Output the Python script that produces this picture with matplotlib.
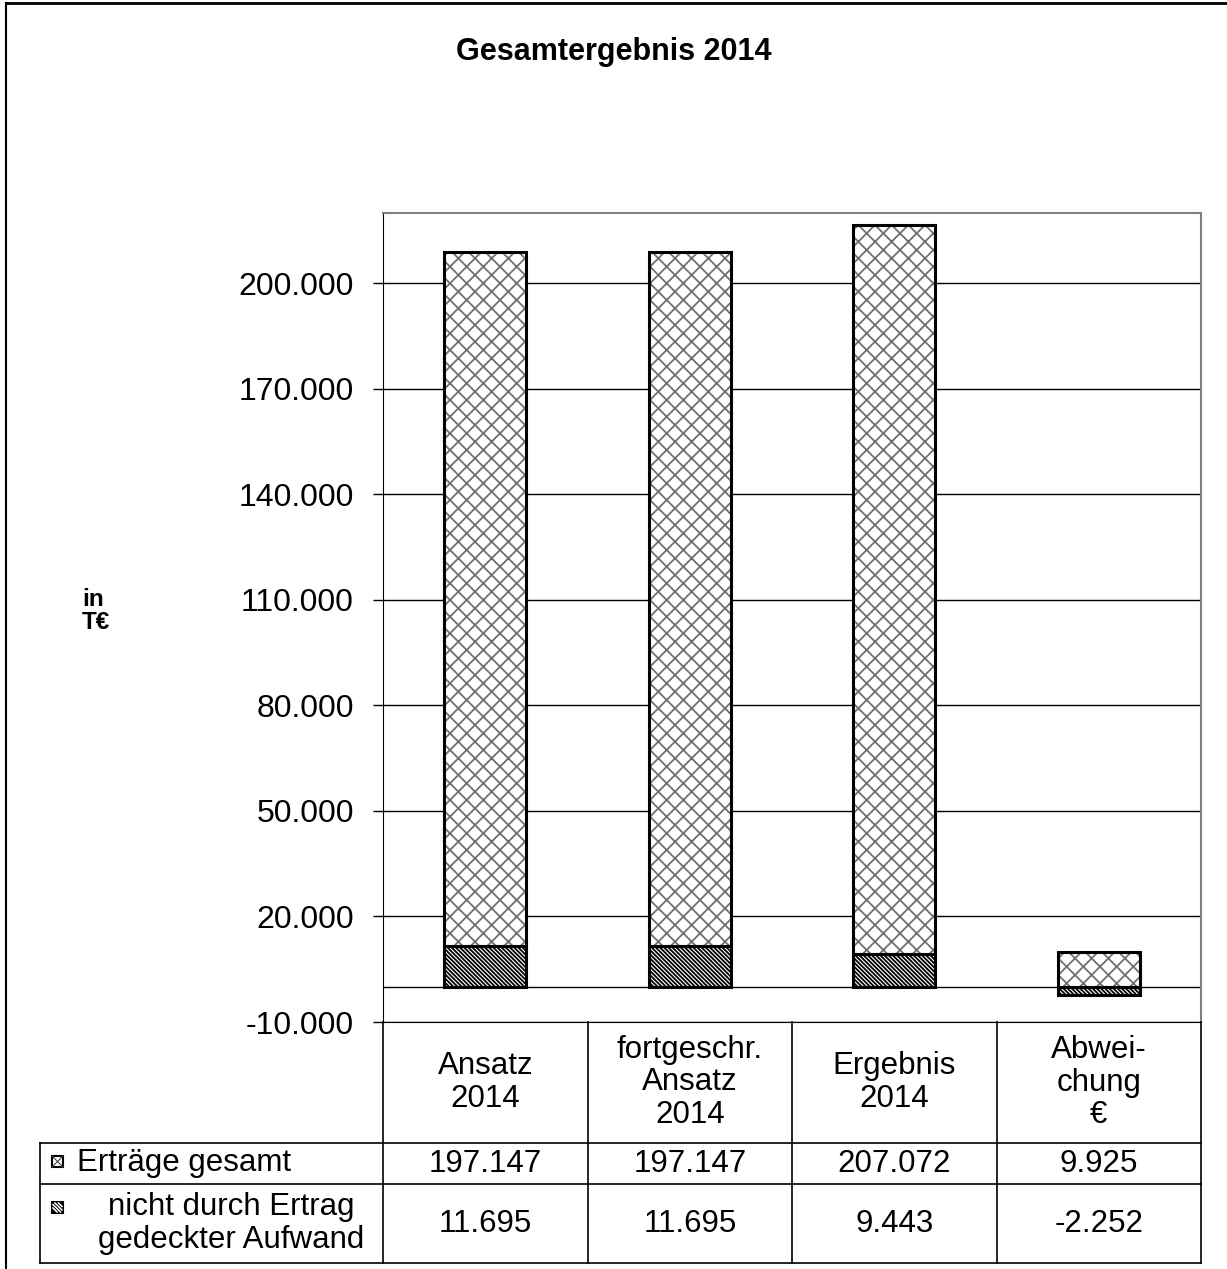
import matplotlib; matplotlib.use("Agg")
import matplotlib.pyplot as plt
from matplotlib.patches import Rectangle
from matplotlib.lines import Line2D
from matplotlib.ticker import FuncFormatter

plt.rcParams['font.family'] = ['Liberation Sans', 'DejaVu Sans']

# ---- data ----
categories = ["Ansatz\n2014", "fortgeschr.\nAnsatz\n2014", "Ergebnis\n2014", "Abwei-\nchung\n€"]
ertraege = [197147, 197147, 207072, 9925]
nicht_gedeckt = [11695, 11695, 9443, -2252]
series_names = ["Erträge gesamt", "nicht durch Ertrag\ngedeckter Aufwand"]
yticks = [-10000, 20000, 50000, 80000, 110000, 140000, 170000, 200000]

W, H = 1227, 1269
fx = lambda px: px / W
fy = lambda py: 1 - py / H

def de(v):
    return f"{v:,.0f}".replace(",", ".")

fig = plt.figure(figsize=(W / 100, H / 100), dpi=100)
fig.patch.set_facecolor("white")

# axes placement (pixels)
L, R, T, B = 383, 1201, 213, 1022
ax = fig.add_axes([fx(L), fy(B), fx(R - L), fy(T) - fy(B)])

x = range(len(categories))
bw = 0.4
bottoms = [max(v, 0) for v in nicht_gedeckt]

plt.rcParams['hatch.linewidth'] = 1.3
ax.bar(x, nicht_gedeckt, bw, color="white", edgecolor="black", hatch="\\" * 8, lw=0, zorder=3)
ax.bar(x, ertraege, bw, bottom=bottoms, color="white", edgecolor="#707070", hatch="xx", lw=0, zorder=3)
ax.bar(x, nicht_gedeckt, bw, fill=False, edgecolor="black", lw=2.2, zorder=4)
ax.bar(x, ertraege, bw, bottom=bottoms, fill=False, edgecolor="black", lw=2.2, zorder=4)

ax.set_xlim(-0.5, len(categories) - 0.5)
ax.set_ylim(-10000, 220000)
ax.set_yticks(yticks)
ax.yaxis.set_major_formatter(FuncFormatter(lambda v, p: de(v)))
ax.tick_params(axis="y", labelsize=23, length=7, width=1, pad=14, direction="out")
ax.set_xticks([])
ax.yaxis.grid(True, color="black", lw=1, zorder=0)
ax.axhline(0, color="black", lw=1, zorder=2)
ax.spines["top"].set_color("#808080")
ax.spines["right"].set_color("#808080")
ax.spines["top"].set_linewidth(1.5)
ax.spines["right"].set_linewidth(1.5)
ax.spines["left"].set_color("black")
ax.spines["bottom"].set_color("black")

fig.text(0.5, fy(52), "Gesamtergebnis 2014", ha="center", va="center",
         fontsize=22, fontweight="bold")
fig.text(fx(82), fy(611), "in\nT€", ha="left", va="center", fontsize=17.5,
         fontweight="bold", linespacing=1.0)

# ---- table below the axes ----
def line(xs, ys, color="black", lw=1.2):
    fig.add_artist(Line2D([fx(v) for v in xs], [fy(v) for v in ys], color=color, lw=lw))

col_w = (R - L) / len(categories)
edges = [L + i * col_w for i in range(len(categories) + 1)]
r0, r1, r2, r3 = B, 1143, 1184, 1263
tab_left = 40

for yy in (r1, r2, r3):
    line([tab_left, R], [yy, yy])
line([tab_left, tab_left], [r1, r3])
for e in edges:
    line([e, e], [r0, r3])

for i, cat in enumerate(categories):
    cx = fx(edges[i] + col_w / 2)
    fig.text(cx, fy((r0 + r1) / 2), cat, ha="center", va="center", fontsize=22.5,
             linespacing=1.13)
    fig.text(cx, fy((r1 + r2) / 2), de(ertraege[i]), ha="center", va="center", fontsize=22.5)
    fig.text(cx, fy((r2 + r3) / 2), de(nicht_gedeckt[i]), ha="center", va="center", fontsize=22.5)

# row labels with legend keys
fig.text(fx(77), fy((r1 + r2) / 2), series_names[0], ha="left", va="center", fontsize=22.5)
fig.text(fx(231), fy((r2 + r3) / 2), series_names[1], ha="center", va="center",
         fontsize=22.5, multialignment="center", linespacing=1.13)

# key 1: white square with a cross
k1x, k1y, ks = 52, 1156, 11
fig.add_artist(Rectangle((fx(k1x), fy(k1y + ks)), fx(ks), fy(k1y) - fy(k1y + ks),
                         transform=fig.transFigure, facecolor="white", edgecolor="black", lw=1.5))
line([k1x, k1x + ks], [k1y, k1y + ks], color="#404040", lw=0.8)
line([k1x, k1x + ks], [k1y + ks, k1y], color="#404040", lw=0.8)
# key 2: black square with white diagonal stripes
k2x, k2y = 52, 1202
fig.add_artist(Rectangle((fx(k2x), fy(k2y + ks)), fx(ks), fy(k2y) - fy(k2y + ks),
                         transform=fig.transFigure, facecolor="black", edgecolor="black", lw=1.5))
for off in (-5, -1.5, 2, 5.5):
    x0, y0 = k2x + max(off, 0), k2y + max(-off, 0)
    d = ks - abs(off)
    line([x0 + 1, x0 + d - 1], [y0 + 1, y0 + d - 1], color="white", lw=1.1)

# outer frame (left and top)
line([6, 6], [3, H], lw=1.5)
line([6, W], [3, 3], lw=2)

fig.savefig("out.png", dpi=100)
